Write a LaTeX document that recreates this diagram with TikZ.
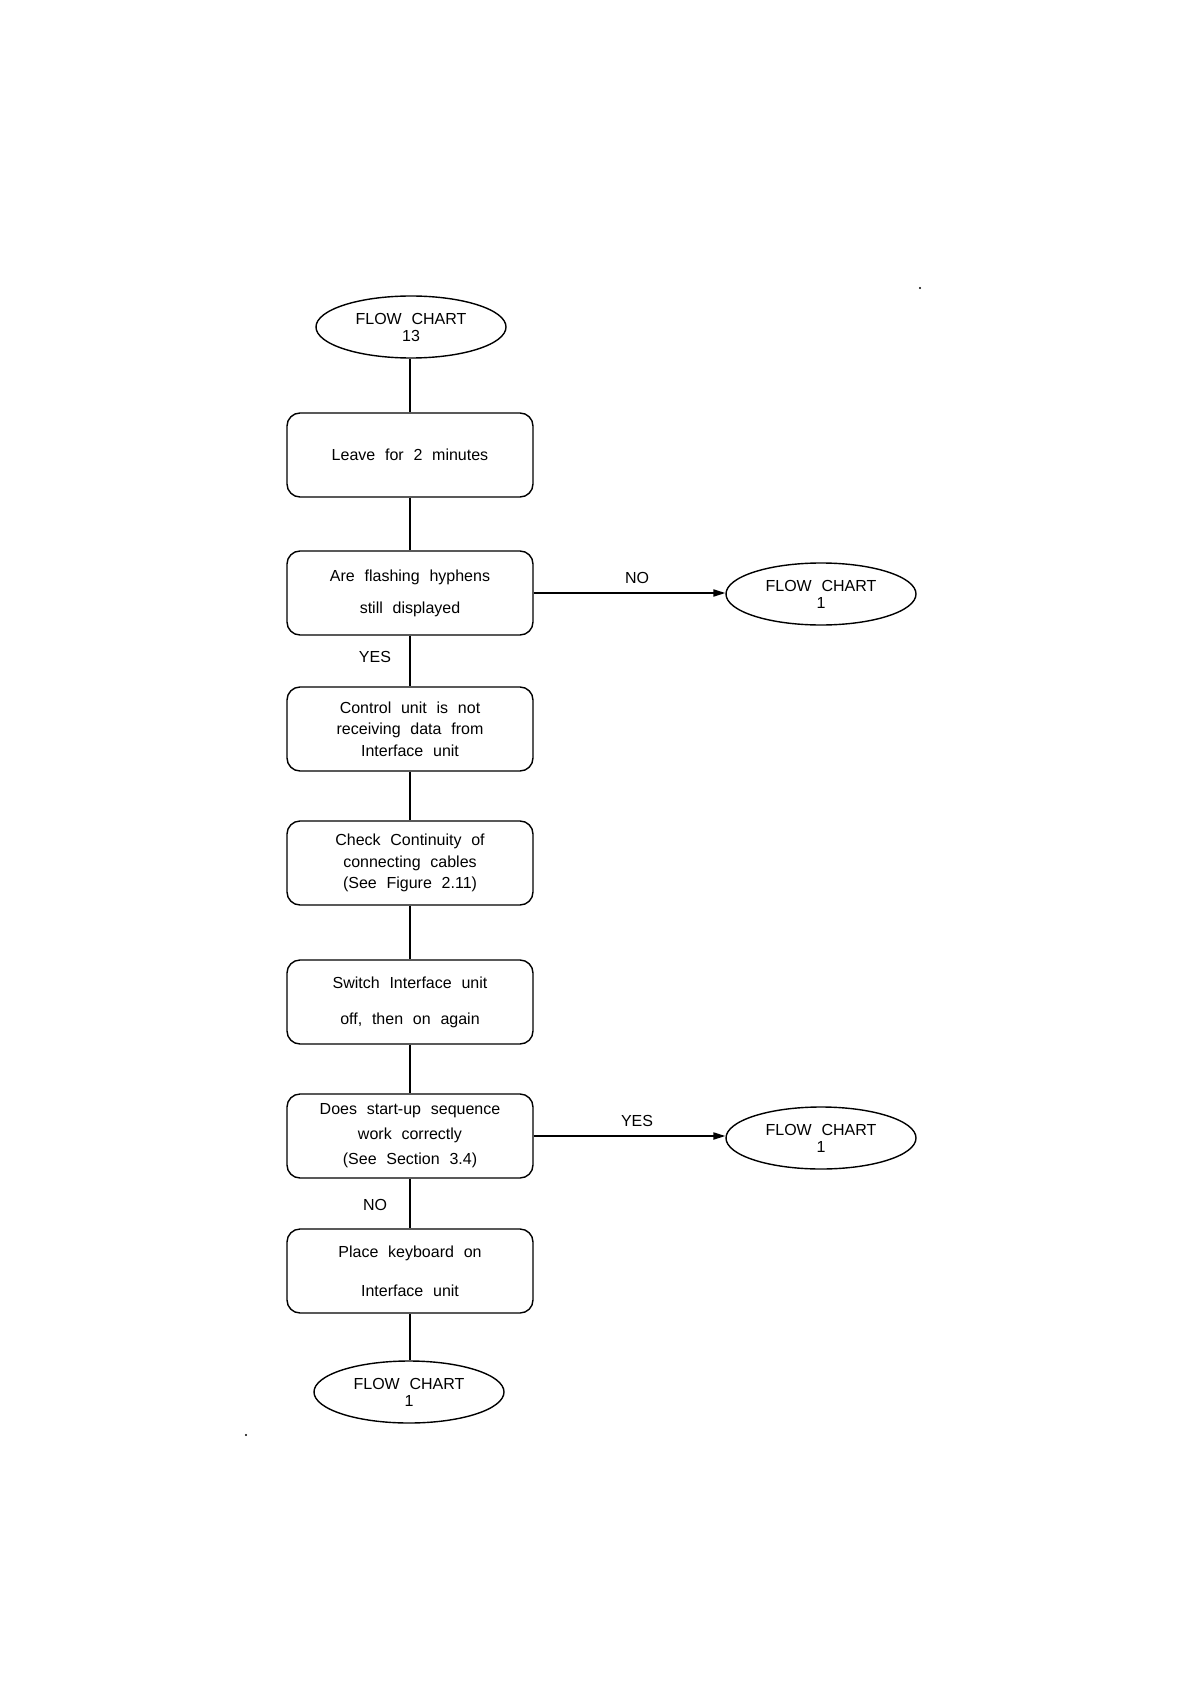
\documentclass[tikz,border=0pt]{standalone}
\usepackage{fontspec}
\setmainfont[WordSpace=2.2]{Liberation Sans}
\usetikzlibrary{shapes.geometric,arrows.meta}
\begin{document}
\begin{tikzpicture}[x=0.5pt,y=-0.5pt,
  every node/.style={font=\fontsize{8}{9.6}\selectfont},
  line/.style={line width=0.7pt},
  procbox/.style={draw,line width=0.7pt,rounded corners=6.5pt,minimum width=123pt,minimum height=42pt,inner sep=0pt,align=center},
  term/.style={draw,ellipse,line width=0.7pt,minimum width=95pt,minimum height=31pt,inner sep=0pt,align=center},
  lbl/.style={inner sep=0pt},
  arr/.style={line width=0.7pt,-{Triangle[length=6pt,width=3.6pt]}}]
\useasboundingbox (0,0) rectangle (1190,1684);
\fill[white] (0,0) rectangle (1190,1684);

\node[term] (e0) at (411,327) {FLOW CHART\\[-1.1pt]13};
\node[procbox] (b1) at (410,455) {Leave for 2 minutes};
\node[procbox] (b2) at (410,593) {Are flashing hyphens\\[6.4pt]still displayed};
\node[term] (e1) at (821,594) {FLOW CHART\\[-1.1pt]1};
\node[procbox] (b3) at (410,729) {Control unit is not\\[1.2pt]receiving data from\\[1.2pt]Interface unit};
\node[procbox] (b4) at (410,863) {Check Continuity of\\[1.2pt]connecting cables\\[1.2pt](See Figure 2.11)};
\node[procbox] (b5) at (410,1002) {Switch Interface unit\\[8.4pt]off, then on again};
\node[procbox] (b6) at (410,1136) {Does start-up sequence\\[2.9pt]work correctly\\[2.9pt](See Section 3.4)};
\node[term] (e2) at (821,1138) {FLOW CHART\\[-1.1pt]1};
\node[procbox] (b7) at (410,1271) {Place keyboard on\\[9.9pt]Interface unit};
\node[term] (e3) at (409,1392) {FLOW CHART\\[-1.1pt]1};

\draw[line] (e0.south -| b1.north) -- (b1.north);
\draw[line] (b1) -- (b2);
\draw[line] (b2) -- (b3);
\draw[line] (b3) -- (b4);
\draw[line] (b4) -- (b5);
\draw[line] (b5) -- (b6);
\draw[line] (b6) -- (b7);
\draw[line] (b7.south) -- (b7.south |- e3.north);
\draw[arr] (b2.east) -- (b2.east -| e1.west);
\draw[arr] (b6.east) -- (b6.east -| e2.west);

\node[lbl] (l1) at (637,578) {NO};
\node[lbl] (l2) at (375,657) {YES};
\node[lbl] (l3) at (637,1121) {YES};
\node[lbl] (l4) at (375,1205) {NO};

\fill (920,288) circle (0.6pt);
\fill (246,1435) circle (0.6pt);
\end{tikzpicture}
\end{document}
